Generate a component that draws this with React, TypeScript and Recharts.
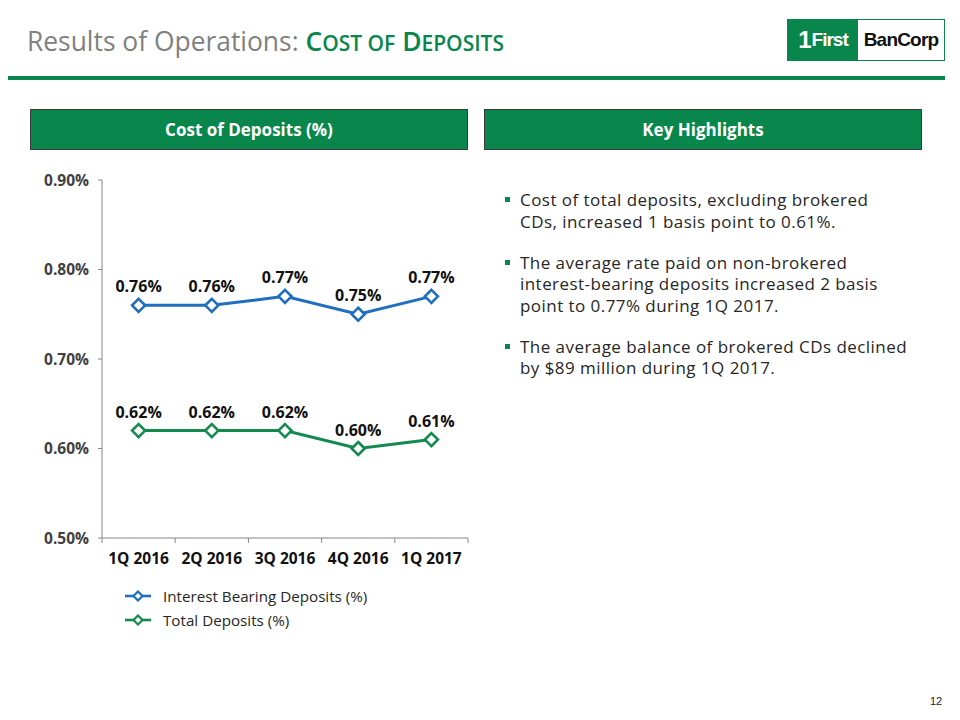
import React from 'react';
import { LineChart, Line, XAxis, YAxis, LabelList, Legend } from 'recharts';

const categories = ['1Q 2016', '2Q 2016', '3Q 2016', '4Q 2016', '1Q 2017'];
const interestBearing = [0.76, 0.76, 0.77, 0.75, 0.77];
const totalDeposits = [0.62, 0.62, 0.62, 0.6, 0.61];
const yTicks = [0.5, 0.6, 0.7, 0.8, 0.9];
const seriesNames = ['Interest Bearing Deposits (%)', 'Total Deposits (%)'];
const bullets = [
  ['Cost of total deposits, excluding brokered', 'CDs, increased 1 basis point to 0.61%.'],
  ['The average rate paid on non-brokered', 'interest-bearing deposits increased 2 basis', 'point to 0.77% during 1Q 2017.'],
  ['The average balance of brokered CDs declined', 'by $89 million during 1Q 2017.'],
];

const BLUE = '#1F6EC0';
const GREEN = '#138A4E';
const BRAND = '#08864C';
const AXIS = '#868686';
const FONT = "'Open Sans', 'DejaVu Sans', sans-serif";

const X_TICK_SIZE = 5;
const X_TICK_MARGIN = 7;

const data = categories.map((c, i) => ({
  cat: c,
  ib: interestBearing[i],
  td: totalDeposits[i],
}));

const fmt = (v: number) => `${v.toFixed(2)}%`;

const makeDot = (color: string) => (props: any) => {
  const { cx, cy, index } = props;
  const r = 6.5;
  return (
    <path
      key={`d-${color}-${index}`}
      d={`M${cx},${cy - r}L${cx + r},${cy}L${cx},${cy + r}L${cx - r},${cy}Z`}
      fill="#fff"
      stroke={color}
      strokeWidth={2.6}
    />
  );
};

// Category tick: label at band centre, tick marks at band boundaries
const XTick = (props: any) => {
  const { x, y, payload, index, visibleTicksCount } = props;
  const half = payload?.offset ?? 0;
  const axisY = y - X_TICK_SIZE - X_TICK_MARGIN;
  const count = visibleTicksCount ?? categories.length;
  return (
    <g>
      <line x1={x - half} y1={axisY} x2={x - half} y2={axisY + X_TICK_SIZE} stroke={AXIS} />
      {index === count - 1 && (
        <line x1={x + half} y1={axisY} x2={x + half} y2={axisY + X_TICK_SIZE} stroke={AXIS} />
      )}
      <text
        x={x}
        y={y}
        dy="0.9em"
        textAnchor="middle"
        fill="#111"
        fontWeight={700}
        fontSize={15.5}
        fontFamily={FONT}
      >
        {payload.value}
      </text>
    </g>
  );
};

const LegendContent = () => (
  <div style={{ fontFamily: FONT, fontSize: 15.2, color: '#262626' }}>
    {[BLUE, GREEN].map((c, i) => (
      <div key={i} style={{ display: 'flex', alignItems: 'center', height: 24 }}>
        <svg width={26} height={14} style={{ marginRight: 12 }}>
          <line x1={0} y1={7} x2={26} y2={7} stroke={c} strokeWidth={2.6} />
          <path d="M13,2.5L17.5,7L13,11.5L8.5,7Z" fill="#fff" stroke={c} strokeWidth={2.2} />
        </svg>
        <span>{seriesNames[i]}</span>
      </div>
    ))}
  </div>
);

const headerBox = (left: number, text: string) => (
  <div
    style={{
      position: 'absolute',
      left,
      top: 109,
      width: 436,
      height: 39,
      background: BRAND,
      border: '1px solid #3a3a3a',
      color: '#fff',
      fontWeight: 700,
      fontSize: 17,
      display: 'flex',
      alignItems: 'center',
      justifyContent: 'center',
    }}
  >
    {text}
  </div>
);

export default function App() {
  return (
    <div
      style={{
        position: 'absolute',
        left: 0,
        top: 0,
        width: 960,
        height: 720,
        background: '#fff',
        fontFamily: FONT,
        overflow: 'hidden',
      }}
    >
      {/* Title */}
      <div style={{ position: 'absolute', left: 27, top: 21, fontSize: 26.4, whiteSpace: 'nowrap', lineHeight: '40px' }}>
        <span style={{ color: '#808080' }}>Results of Operations: </span>
        <span style={{ color: BRAND, fontWeight: 600 }}>
          C<span style={{ fontSize: 21 }}>OST OF</span> D<span style={{ fontSize: 21 }}>EPOSITS</span>
        </span>
      </div>
      {/* Logo */}
      <div
        style={{
          position: 'absolute',
          left: 787,
          top: 19,
          width: 156,
          height: 40,
          border: `1px solid ${BRAND}`,
          display: 'flex',
          fontFamily: "'Liberation Sans', sans-serif",
          fontWeight: 700,
        }}
      >
        <div
          style={{
            width: 70,
            background: BRAND,
            color: '#fff',
            display: 'flex',
            alignItems: 'center',
            justifyContent: 'center',
            fontSize: 19,
            letterSpacing: -1,
          }}
        >
          <span style={{ fontSize: 24, marginRight: 1 }}>1</span>First
        </div>
        <div
          style={{
            flex: 1,
            color: '#111',
            display: 'flex',
            alignItems: 'center',
            justifyContent: 'center',
            fontSize: 19,
            letterSpacing: -0.8,
          }}
        >
          BanCorp
        </div>
      </div>
      {/* Green rule */}
      <div style={{ position: 'absolute', left: 8, top: 76, width: 937, height: 4, background: BRAND }} />

      {headerBox(30, 'Cost of Deposits (%)')}
      {headerBox(484, 'Key Highlights')}

      {/* Chart */}
      <div style={{ position: 'absolute', left: 30, top: 160 }}>
        <LineChart width={450} height={480} data={data} margin={{ top: 20, right: 12, left: 0, bottom: 72 }}>
          <XAxis
            dataKey="cat"
            scale="band"
            height={30}
            axisLine={{ stroke: AXIS }}
            tickLine={false}
            tickSize={X_TICK_SIZE}
            tickMargin={X_TICK_MARGIN}
            interval={0}
            tick={<XTick />}
          />
          <YAxis
            width={72}
            domain={[0.5, 0.9]}
            ticks={yTicks}
            tickFormatter={fmt}
            axisLine={{ stroke: AXIS }}
            tickLine={{ stroke: AXIS }}
            tickSize={4}
            tickMargin={9}
            tick={{ fill: '#404040', fontWeight: 700, fontSize: 15.5, fontFamily: FONT }}
          />
          <Legend
            layout="horizontal"
            verticalAlign="middle"
            align="center"
            content={<LegendContent />}
            wrapperStyle={{ left: 95, top: 424, width: 300 }}
          />
          <Line
            dataKey="ib"
            name={seriesNames[0]}
            stroke={BLUE}
            strokeWidth={3}
            dot={makeDot(BLUE)}
            isAnimationActive={false}
          >
            <LabelList dataKey="ib" position="top" offset={13} formatter={fmt} fill="#111" fontWeight={700} fontSize={16} fontFamily={FONT} />
          </Line>
          <Line
            dataKey="td"
            name={seriesNames[1]}
            stroke={GREEN}
            strokeWidth={3}
            dot={makeDot(GREEN)}
            isAnimationActive={false}
          >
            <LabelList dataKey="td" position="top" offset={13} formatter={fmt} fill="#111" fontWeight={700} fontSize={16} fontFamily={FONT} />
          </Line>
        </LineChart>
      </div>

      {/* Bullets */}
      <div style={{ position: 'absolute', left: 520, top: 189, fontSize: 17, letterSpacing: 0.45, lineHeight: '21.5px', color: '#262626' }}>
        {bullets.map((lines, i) => (
          <div key={i} style={{ position: 'relative', marginBottom: 19.5, whiteSpace: 'nowrap' }}>
            <div style={{ position: 'absolute', left: -15, top: 8, width: 5, height: 5, background: BRAND }} />
            {lines.map((l, j) => (
              <div key={j}>{l}</div>
            ))}
          </div>
        ))}
      </div>

      {/* Page number */}
      <div style={{ position: 'absolute', left: 930, top: 695, fontSize: 11, color: '#222', fontFamily: "'Liberation Sans', sans-serif" }}>12</div>
    </div>
  );
}
